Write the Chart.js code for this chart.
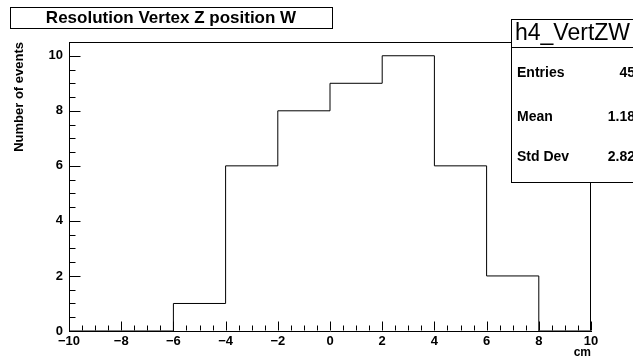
<!DOCTYPE html>
<html>
<head>
<meta charset="utf-8">
<script src="https://cdn.jsdelivr.net/npm/chart.js@4.4.0/dist/chart.umd.min.js"></script>
<style>
  html, body { margin: 0; padding: 0; background: #fff; }
  #wrap { width: 633px; height: 361px; }
</style>
</head>
<body>
<div id="wrap"><canvas id="histo" width="633" height="361"></canvas></div>
<script>
// histogram bins (low edges + last upper edge) and contents
const binEdges = [-10, -8, -6, -4, -2, 0, 2, 4, 6, 8, 10];
const binCounts = [0, 0, 1, 6, 8, 9, 10, 6, 2, 0];
const xTicks = [-10, -8, -6, -4, -2, 0, 2, 4, 6, 8, 10];
const yTicks = [0, 2, 4, 6, 8, 10];
const histTitle = "Resolution Vertex Z position W";
const statsName = "h4_VertZW";
const statsLabels = ["Entries", "Mean", "Std Dev"];
const statsValues = ["45", "1.18", "2.82"];

const FONT = "'Liberation Sans', Arial, Helvetica, sans-serif";

// step outline: point i holds bin i, drawn flat up to the next edge
const stepPoints = binEdges.map((x, i) => ({
  x: x,
  y: binCounts[Math.min(i, binCounts.length - 1)]
}));

const fmt = v => (v < 0 ? "\u2212" + Math.abs(v) : String(v));

// frame box, inner tick marks, title pave and stats box
const rootDecor = {
  id: "rootDecor",
  afterDraw(chart) {
    const ctx = chart.ctx;
    const a = chart.chartArea;
    const xs = chart.scales.x, ys = chart.scales.y;
    const L = Math.round(a.left) + 0.5, R = Math.round(a.right) - 0.5;
    const T = Math.round(a.top) + 0.5, B = Math.round(a.bottom) - 0.5;

    ctx.save();
    ctx.strokeStyle = "#000";
    ctx.lineWidth = 1;

    // top and right sides of the frame
    ctx.beginPath();
    ctx.moveTo(L, T); ctx.lineTo(R, T); ctx.lineTo(R, B);
    ctx.stroke();

    // x ticks: major every 2, minor every 0.5, pointing up
    ctx.beginPath();
    for (let v = -10; v <= 10.001; v += 0.5) {
      const px = Math.round(xs.getPixelForValue(v)) + 0.5;
      const len = Math.abs(v % 2) < 1e-6 ? 9 : 5;
      ctx.moveTo(px, B); ctx.lineTo(px, B - len);
    }
    // y ticks: major every 2, minor every 0.5, pointing right
    for (let v = 0; v <= 10.5001; v += 0.5) {
      const py = Math.round(ys.getPixelForValue(v)) + 0.5;
      const len = Math.abs(v % 2) < 1e-6 ? 11 : 6;
      ctx.moveTo(L, py); ctx.lineTo(L + len, py);
    }
    ctx.stroke();

    // title pave
    ctx.fillStyle = "#fff";
    ctx.fillRect(10.5, 7.5, 322, 21);
    ctx.strokeRect(10.5, 7.5, 322, 21);
    ctx.fillStyle = "#000";
    ctx.font = "bold 17px " + FONT;
    ctx.textAlign = "center";
    ctx.textBaseline = "middle";
    ctx.fillText(histTitle, 171, 18.5);

    // stats box
    const sx = 511.5, sy = 19.5, sw = 140, sh = 163;
    ctx.fillStyle = "#fff";
    ctx.fillRect(sx, sy, sw, sh);
    ctx.strokeRect(sx, sy, sw, sh);
    ctx.beginPath();
    ctx.moveTo(sx, 47.5); ctx.lineTo(sx + sw, 47.5);
    ctx.stroke();

    ctx.fillStyle = "#000";
    ctx.font = "23px " + FONT;
    ctx.textAlign = "left";
    ctx.fillText(statsName, 515, 34);

    ctx.font = "bold 14px " + FONT;
    const rowY = [73, 117, 157];
    statsLabels.forEach((lab, i) => {
      ctx.textAlign = "left";
      ctx.fillText(lab, 517, rowY[i]);
      ctx.textAlign = "right";
      ctx.fillText(statsValues[i], 635, rowY[i]);
    });
    ctx.restore();
  }
};

new Chart(document.getElementById("histo"), {
  type: "line",
  data: {
    datasets: [{
      data: stepPoints,
      stepped: "before",
      borderColor: "#000",
      borderWidth: 1,
      pointRadius: 0,
      fill: false,
      clip: 2
    }]
  },
  options: {
    responsive: false,
    animation: false,
    events: [],
    layout: { padding: { top: 42, right: 42, left: 0, bottom: 0 } },
    plugins: { legend: { display: false }, tooltip: { enabled: false } },
    scales: {
      x: {
        type: "linear",
        min: -10,
        max: 10,
        afterBuildTicks: s => { s.ticks = xTicks.map(v => ({ value: v })); },
        afterFit: s => { s.height = 30; },
        grid: { display: false, drawTicks: false },
        border: { display: true, color: "#000", width: 1 },
        ticks: {
          color: "#000",
          padding: 3,
          maxRotation: 0,
          autoSkip: false,
          font: { family: FONT, size: 13, weight: "bold" },
          callback: v => fmt(v)
        },
        title: {
          display: true,
          text: "cm",
          align: "end",
          color: "#000",
          padding: { top: 0, bottom: 1 },
          font: { family: FONT, size: 12, weight: "bold" }
        }
      },
      y: {
        min: 0,
        max: 10.5,
        afterBuildTicks: s => { s.ticks = yTicks.map(v => ({ value: v })); },
        afterFit: s => { s.width = 69; },
        grid: { display: false, drawTicks: false },
        border: { display: true, color: "#000", width: 1 },
        ticks: {
          color: "#000",
          padding: 6,
          autoSkip: false,
          font: { family: FONT, size: 13, weight: "bold" },
          callback: v => fmt(v)
        },
        title: {
          display: true,
          text: "Number of events",
          align: "end",
          color: "#000",
          padding: { top: 12, bottom: 0 },
          font: { family: FONT, size: 13, weight: "bold" }
        }
      }
    }
  },
  plugins: [rootDecor]
});
</script>
</body>
</html>
